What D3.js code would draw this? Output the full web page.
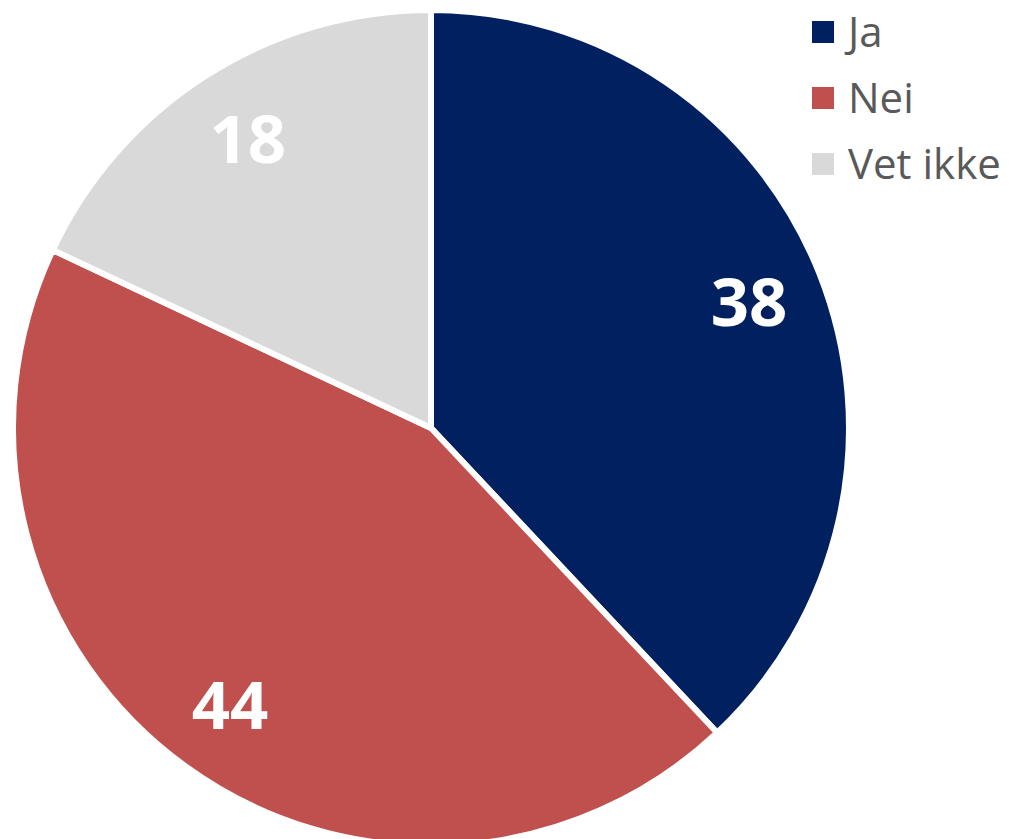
<!DOCTYPE html>
<html>
<head>
<meta charset="utf-8">
<script src="https://cdn.jsdelivr.net/npm/d3@7"></script>
<style>
  html, body { margin: 0; padding: 0; background: #ffffff; }
  svg { display: block; }
</style>
</head>
<body>
<div id="chart"></div>
<script>
// data
const categories = ["Ja", "Nei", "Vet ikke"];
const values = [38, 44, 18];
const colors = ["#002060", "#C0504D", "#D9D9D9"];

const width = 1009, height = 839;
const cx = 431, cy = 428;
const radius = 418;

const svg = d3.select("#chart").append("svg")
    .attr("width", width)
    .attr("height", height);

const data = categories.map((c, i) => ({name: c, value: values[i], color: colors[i]}));

let pie = d3.pie()
    .value(d => d.value)
    .sort(null);

let arc = d3.arc()
    .innerRadius(0)
    .outerRadius(radius);

// labels sit a bit inside the rim
let labelArc = d3.arc()
    .innerRadius(342 * 2 - radius)
    .outerRadius(radius);

const g = svg.append("g")
    .attr("transform", `translate(${cx}, ${cy})`);

g.selectAll("path")
    .data(pie(data))
    .enter()
    .append("path")
    .attr("d", arc)
    .style("fill", d => d.data.color)
    .style("stroke", "#ffffff")
    .style("stroke-width", 6)
    .style("stroke-linejoin", "miter");

let fontSize = 67;
g.selectAll("text.val")
    .data(pie(data))
    .enter()
    .append("text")
    .attr("class", "val")
    .attr("x", d => labelArc.centroid(d)[0])
    // alphabetic baseline, digits centred on the point
    .attr("y", d => labelArc.centroid(d)[1] + fontSize * 0.357)
    .attr("text-anchor", "middle")
    .style("font-family", "'Open Sans', sans-serif")
    .style("font-weight", "bold")
    .style("font-size", fontSize + "px")
    .style("fill", "#ffffff")
    .text(d => d.data.value);

// legend
const legend = svg.append("g")
    .attr("transform", "translate(812, 21)");

let item = legend.selectAll("g")
    .data(data)
    .enter()
    .append("g")
    .attr("transform", (d, i) => `translate(0, ${i * 66})`);

item.append("rect")
    .attr("width", 22)
    .attr("height", 22)
    .style("fill", d => d.color);

item.append("text")
    .attr("x", 36)
    .attr("y", 25.5)
    .style("font-family", "'Open Sans', sans-serif")
    .style("font-size", "42px")
    .style("fill", "#595959")
    .text(d => d.name);
</script>
</body>
</html>
